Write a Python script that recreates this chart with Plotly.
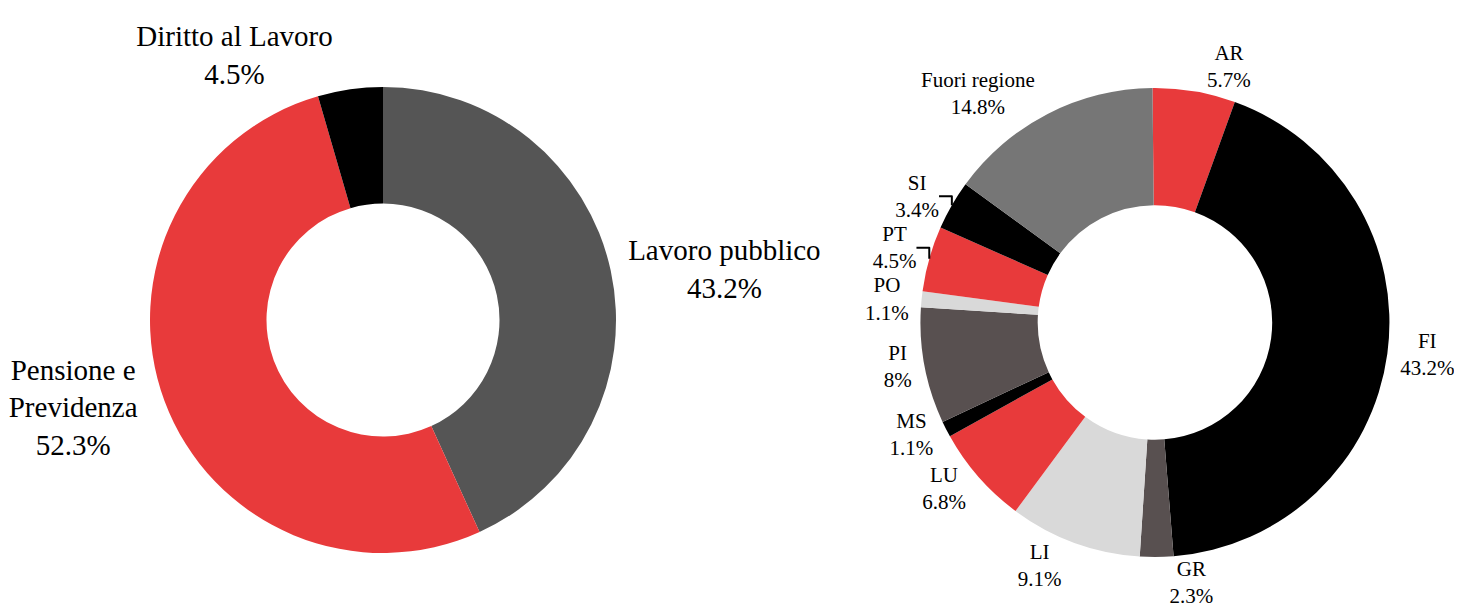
import plotly.graph_objects as go

# left donut: tipologia
left_labels = ["Lavoro pubblico", "Pensione e<br>Previdenza", "Diritto al Lavoro"]
left_values = [43.2, 52.3, 4.5]
left_colors = ["#555555", "#e83a3b", "#000000"]

# right donut: provenienza
right_labels = ["AR", "FI", "GR", "LI", "LU", "MS", "PI", "PO", "PT", "SI", "Fuori regione"]
right_values = [5.7, 43.2, 2.3, 9.1, 6.8, 1.1, 8, 1.1, 4.5, 3.4, 14.8]
right_colors = ["#e83a3b", "#000000", "#585050", "#d9d9d9", "#e83a3b", "#000000",
                "#585050", "#d9d9d9", "#e83a3b", "#000000", "#767676"]

FONT = "Liberation Serif, Times New Roman, DejaVu Serif, serif"

fig = go.Figure()
fig.add_trace(
    go.Pie(
        labels=left_labels,
        values=left_values,
        marker=dict(colors=left_colors),
        hole=0.5,
        sort=False,
        direction="clockwise",
        rotation=0,
        textinfo="label+percent",
        textposition="outside",
        textfont=dict(family=FONT, size=29, color="#000000"),
        domain=dict(x=[0.0971, 0.4159], y=[0.108, 0.8707]),
        automargin=False,
        showlegend=False,
    )
)
fig.add_trace(
    go.Pie(
        labels=right_labels,
        values=right_values,
        marker=dict(colors=right_colors),
        hole=0.5,
        sort=False,
        direction="clockwise",
        # tiny nudge so GR's label sits in the lower-right quadrant, like the original
        rotation=-0.6,
        textinfo="label+percent",
        textposition="outside",
        textfont=dict(family=FONT, size=21, color="#000000"),
        domain=dict(x=[0.6241, 0.9449], y=[0.1015, 0.8691]),
        automargin=False,
        showlegend=False,
    )
)
fig.update_layout(
    width=1462,
    height=611,
    margin=dict(l=0, r=0, t=0, b=0, autoexpand=False),
    paper_bgcolor="white",
    plot_bgcolor="white",
    font=dict(family=FONT),
)
fig.write_html("out.html")
